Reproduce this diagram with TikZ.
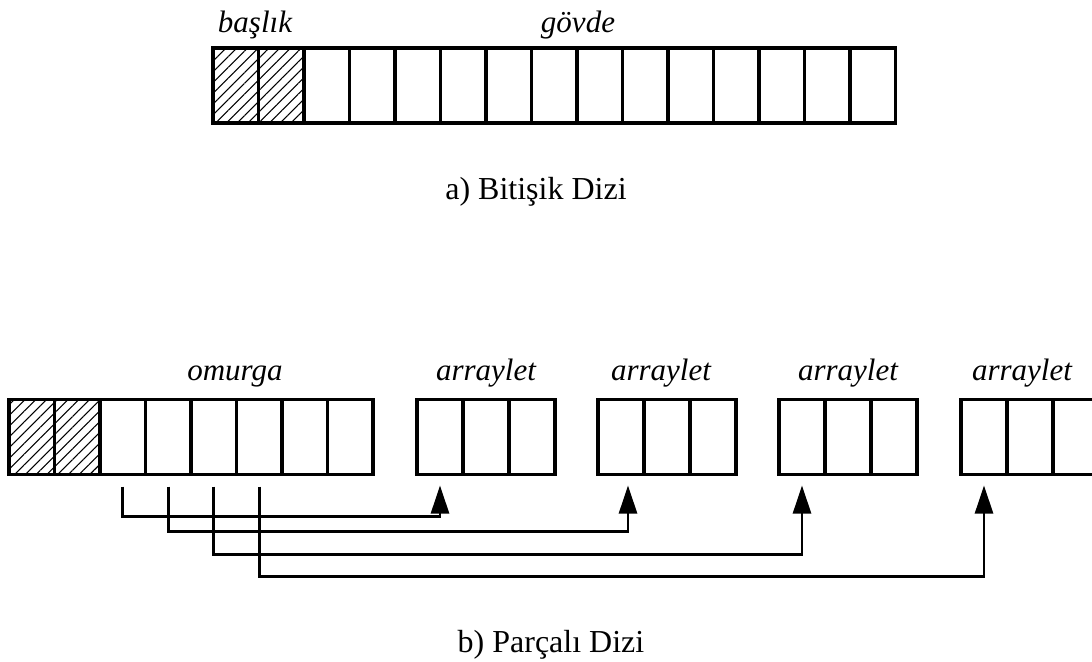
\documentclass[tikz,border=0pt]{standalone}
\usepackage{fontspec}
\setmainfont{Liberation Serif}
\usetikzlibrary{arrows.meta,patterns.meta}

\tikzset{
  cell/.style={draw, line width=1.9pt, minimum width=22.75pt, minimum height=37.5pt,
    inner sep=0pt, outer sep=0pt},
  hatched/.style={cell, pattern={Lines[angle=45,distance=3.8pt,line width=0.55pt]}},
  lbl/.style={font=\fontsize{15.5}{18}\selectfont\itshape, anchor=base, inner sep=0pt},
  capt/.style={font=\fontsize{16}{19}\selectfont, anchor=base, inner sep=0pt},
  link/.style={line width=1.3pt, -{Triangle[length=14pt,width=9pt]},
    shorten <=6pt, shorten >=5.5pt}
}

\begin{document}
\begin{tikzpicture}[x=0.5pt,y=-0.5pt]
  \useasboundingbox (0,0) rectangle (1092,661);

  % a) bitisik dizi
  \foreach \i in {1,2}
    \node[hatched] (g\i) at ({213+45.5*(\i-0.5)},85.5) {};
  \foreach \i in {3,...,15}
    \node[cell] (g\i) at ({213+45.5*(\i-0.5)},85.5) {};

  \node[lbl] (baslik) at (255,32) {başlık};
  \node[lbl] (govde)  at (578,32) {gövde};
  \node[capt] (capa)  at (536,199) {a) Bitişik Dizi};

  % b) parcali dizi: omurga
  \foreach \i in {1,2}
    \node[hatched] (o\i) at ({9+45.5*(\i-0.5)},437) {};
  \foreach \i in {3,...,8}
    \node[cell] (o\i) at ({9+45.5*(\i-0.5)},437) {};
  \node[lbl] (omurga) at (235,380) {omurga};

  % arraylets
  \foreach \k/\x/\t in {1/417/486,2/598/661,3/779/848,4/961/1022} {
    \foreach \j in {1,2,3}
      \node[cell, minimum width=23pt] (a\k-\j) at ({\x+46*(\j-0.5)},437) {};
    \node[lbl] (al\k) at (\t,380) {arraylet};
  }

  \draw[link] (o3.south) -- ++(0,42)  -| (a1-1.south);
  \draw[link] (o4.south) -- ++(0,57)  -| ([xshift=3.5pt]a2-1.south);
  \draw[link] (o5.south) -- ++(0,80)  -| (a3-1.south);
  \draw[link] (o6.south) -- ++(0,102) -| (a4-1.south);

  \node[capt] (capb) at (551,652) {b) Parçalı Dizi};
\end{tikzpicture}
\end{document}
